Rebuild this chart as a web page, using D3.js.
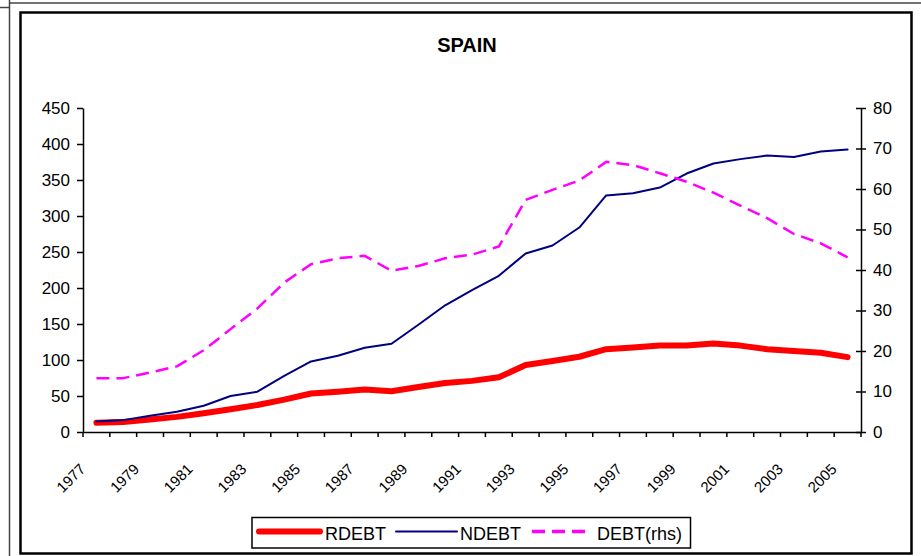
<!DOCTYPE html>
<meta charset='utf-8'>
<style type='text/css'>
body { margin: 0; background: #fff; }
text { font-family: 'Liberation Sans', Arial, sans-serif; fill: #000; }
.tick text { font-size: 17px; }
.xlab { font-size: 15px; }
.legend text { font-size: 18px; }
</style>
<div id='chart'></div>
<script src='https://d3js.org/d3.v7.min.js'></script>
<script>

  var years = [1977, 1978, 1979, 1980, 1981, 1982, 1983, 1984, 1985, 1986,
               1987, 1988, 1989, 1990, 1991, 1992, 1993, 1994, 1995, 1996,
               1997, 1998, 1999, 2000, 2001, 2002, 2003, 2004, 2005];
  var yearLabels = [1977, 1979, 1981, 1983, 1985, 1987, 1989, 1991,
                    1993, 1995, 1997, 1999, 2001, 2003, 2005];
  var leftTicks = [0, 50, 100, 150, 200, 250, 300, 350, 400, 450];
  var rightTicks = [0, 10, 20, 30, 40, 50, 60, 70, 80];

  var rdebt = [13, 14, 17.5, 21, 26, 31.5, 37.5, 45, 53.5, 56,
               59, 56.5, 62.5, 68, 71, 76, 93, 98.5, 104.5, 115,
               117.5, 120, 120, 123, 120, 115, 112.5, 110, 104];
  var ndebt = [14.5, 16.5, 22.5, 28, 36.5, 50, 56, 78, 98, 106,
               117, 122.5, 149, 176, 197, 217, 248, 259, 284, 328.5,
               331.5, 339.5, 359, 373, 379, 384, 382, 389.5, 392.5];
  var debt = [13.3, 13.3, 14.7, 16.2, 20.2, 25.4, 30.5, 36.9, 41.4, 42.9,
              43.5, 39.8, 41, 42.9, 43.8, 45.8, 57.3, 59.8, 62.1, 66.7,
              65.9, 63.9, 61.8, 59.1, 55.9, 52.8, 48.9, 46.6, 43.1];

  var series = [
    {name: 'RDEBT', values: rdebt, color: '#ff0000', width: 6, dash: null, axis: 'left'},
    {name: 'NDEBT', values: ndebt, color: '#000080', width: 2, dash: null, axis: 'left'},
    {name: 'DEBT(rhs)', values: debt, color: '#ff00ff', width: 2.5, dash: '13,7', axis: 'right'}
  ];

  var W = 921, H = 556;
  var plot = {left: 83, right: 861, top: 108, bottom: 432};

  var svg = d3.select('#chart')
    .append('svg')
      .attr('width', W)
      .attr('height', H);

  // spreadsheet gridlines behind the chart
  svg.append('line').attr('x1', 10).attr('x2', W).attr('y1', 3).attr('y2', 3)
    .attr('stroke', '#444').attr('stroke-width', 1.5);
  svg.append('line').attr('x1', 0).attr('x2', 9).attr('y1', 7.5).attr('y2', 7.5)
    .attr('stroke', '#444').attr('stroke-width', 1.5);
  svg.append('line').attr('x1', 9.5).attr('x2', 9.5).attr('y1', 0).attr('y2', H)
    .attr('stroke', '#444').attr('stroke-width', 1.5);

  // chart border
  svg.append('rect')
    .attr('x', 20.5).attr('y', 12.5)
    .attr('width', 891).attr('height', 541)
    .attr('fill', '#fff')
    .attr('stroke', '#000').attr('stroke-width', 2.5);

  svg.append('text')
    .attr('x', 467).attr('y', 52)
    .attr('text-anchor', 'middle')
    .style('font-size', '20px')
    .style('font-weight', 'bold')
    .text('SPAIN');

  var x = d3.scaleBand()
    .domain(years)
    .range([plot.left, plot.right])
    .padding(0);
  var bw = x.bandwidth();
  function cx(i) { return x(years[i]) + bw / 2; }

  var yLeft = d3.scaleLinear().domain([0, 450]).range([plot.bottom, plot.top]);
  var yRight = d3.scaleLinear().domain([0, 80]).range([plot.bottom, plot.top]);

  // left axis
  var gl = svg.append('g')
    .attr('transform', 'translate(' + plot.left + ',0)')
    .call(d3.axisLeft(yLeft).tickValues(leftTicks).tickSize(6).tickSizeOuter(0).tickPadding(7));
  gl.selectAll('path, line').attr('stroke', '#000').attr('stroke-width', 1.5);
  gl.selectAll('text').attr('font-family', null);

  // right axis, ticks crossing the line
  var gr = svg.append('g')
    .attr('transform', 'translate(' + plot.right + ',0)')
    .call(d3.axisRight(yRight).tickValues(rightTicks).tickSize(5).tickSizeOuter(0).tickPadding(7));
  gr.selectAll('.tick line').attr('x1', -5);
  gr.selectAll('path, line').attr('stroke', '#000').attr('stroke-width', 1.5);

  // bottom axis, ticks between categories
  var gx = svg.append('g')
    .attr('transform', 'translate(0,' + plot.bottom + ')')
    .call(d3.axisBottom(x).tickSize(5).tickSizeOuter(0).tickFormat(''));
  gx.selectAll('.tick line').attr('transform', 'translate(' + (-bw / 2) + ',0)');
  gx.append('line')
    .attr('x1', plot.right).attr('x2', plot.right)
    .attr('y1', 0).attr('y2', 5);
  gx.selectAll('path, line').attr('stroke', '#000').attr('stroke-width', 1.5);

  svg.append('g').selectAll('text')
    .data(yearLabels)
    .enter()
    .append('text')
      .attr('class', 'xlab')
      .attr('text-anchor', 'end')
      .attr('transform', function(d) {
        return 'translate(' + (x(d) + bw / 2 - 10) + ',470) rotate(-45)';
      })
      .text(function(d) { return d; });

  // lines
  series.forEach(function(s) {
    var yScale = s.axis === 'left' ? yLeft : yRight;
    var line = d3.line()
      .x(function(d, i) { return cx(i); })
      .y(function(d) { return yScale(d); });
    svg.append('path')
      .datum(s.values)
      .attr('d', line)
      .attr('fill', 'none')
      .attr('stroke', s.color)
      .attr('stroke-width', s.width)
      .attr('stroke-linejoin', 'round')
      .attr('stroke-linecap', s.dash ? 'butt' : 'round')
      .attr('stroke-dasharray', s.dash);
  });

  // legend
  var legend = svg.append('g').attr('class', 'legend');
  legend.append('rect')
    .attr('x', 252).attr('y', 517.5)
    .attr('width', 438.5).attr('height', 30.5)
    .attr('fill', '#fff')
    .attr('stroke', '#000').attr('stroke-width', 1.5);

  var legendPos = [
    {x1: 259, x2: 320, tx: 325},
    {x1: 396, x2: 457, tx: 460},
    {x1: 532, x2: 590, tx: 597}
  ];
  series.forEach(function(s, i) {
    var p = legendPos[i];
    legend.append('line')
      .attr('x1', p.x1).attr('x2', p.x2)
      .attr('y1', 531.5).attr('y2', 531.5)
      .attr('stroke', s.color)
      .attr('stroke-width', s.width === 2.5 ? 3.5 : s.width)
      .attr('stroke-linecap', s.dash ? 'butt' : 'round')
      .attr('stroke-dasharray', s.dash);
    legend.append('text')
      .attr('x', p.tx).attr('y', 540)
      .text(s.name);
  });

</script>
